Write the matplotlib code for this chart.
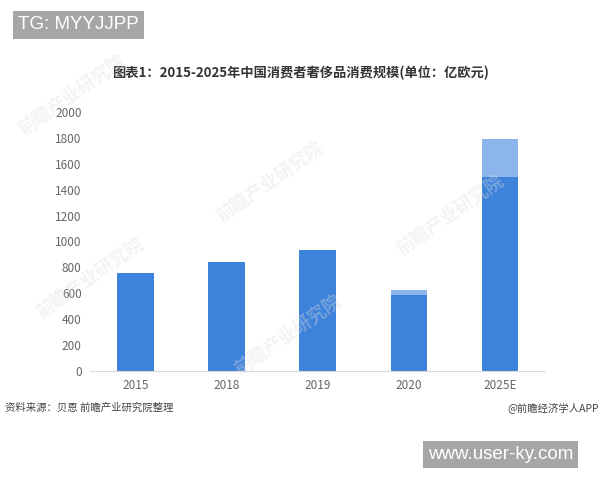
import matplotlib.pyplot as plt

plt.rcParams['font.family'] = ['Noto Sans CJK SC', 'DejaVu Sans']

# === Data (亿欧元) ===
years = ["2015", "2018", "2019", "2020", "2025E"]
base_values = [760, 845, 935, 590, 1500]
extra_values = [0, 0, 0, 35, 290]
y_ticks = [0, 200, 400, 600, 800, 1000, 1200, 1400, 1600, 1800, 2000]

DARK = "#3d82db"
LIGHT = "#8bb5ec"

fig = plt.figure(figsize=(6, 4.8), dpi=100)
ax = fig.add_axes([0.15, 0.227, 0.759, 0.540])

x = range(len(years))
ax.bar(x, base_values, width=0.4, color=DARK, zorder=2)
ax.bar(x, extra_values, width=0.4, bottom=base_values, color=LIGHT, zorder=2)

ax.set_xlim(-0.5, len(years) - 0.5)
ax.set_ylim(0, 2000)
ax.set_yticks(y_ticks)
ax.set_xticks(list(x))
ax.set_xticklabels(years)
ax.tick_params(axis='both', length=0, labelsize=8.5, labelcolor="#666666")
ax.tick_params(axis='y', pad=6)
ax.tick_params(axis='x', pad=6)
for s in ["top", "right", "left"]:
    ax.spines[s].set_visible(False)
ax.spines["bottom"].set_color("#d9d9d9")

# title
fig.text(0.5, 0.848, "图表1：2015-2025年中国消费者奢侈品消费规模(单位：亿欧元)",
         ha='center', va='center', fontsize=9.5, fontweight='bold', color="#333333")

# source lines
fig.text(0.008, 0.151, "资料来源：贝恩 前瞻产业研究院整理", ha='left', va='center',
         fontsize=7.5, color="#444444")
fig.text(0.998, 0.151, "@前瞻经济学人APP", ha='right', va='center',
         fontsize=7.5, color="#444444")

# faint watermarks
for wx, wy in [(0.12, 0.80), (0.45, 0.62), (0.15, 0.42), (0.48, 0.30), (0.75, 0.55)]:
    fig.text(wx, wy, "前瞻产业研究院", rotation=35, fontsize=13, color="#dddddd",
             alpha=0.35, ha='center', va='center', fontweight='bold')

# overlay labels
fig.text(0.030, 0.948, "TG: MYYJJPP", ha='left', va='center', fontsize=13.5,
         color="white", family="Liberation Sans",
         bbox=dict(boxstyle="square,pad=0.28", fc="#a6a6a6", ec="none"))
fig.text(0.713, 0.053, "www.user-ky.com", ha='left', va='center', fontsize=13.5,
         color="white", family="Liberation Sans",
         bbox=dict(boxstyle="square,pad=0.28", fc="#a6a6a6", ec="none"))

plt.savefig("out.png", dpi=100)
